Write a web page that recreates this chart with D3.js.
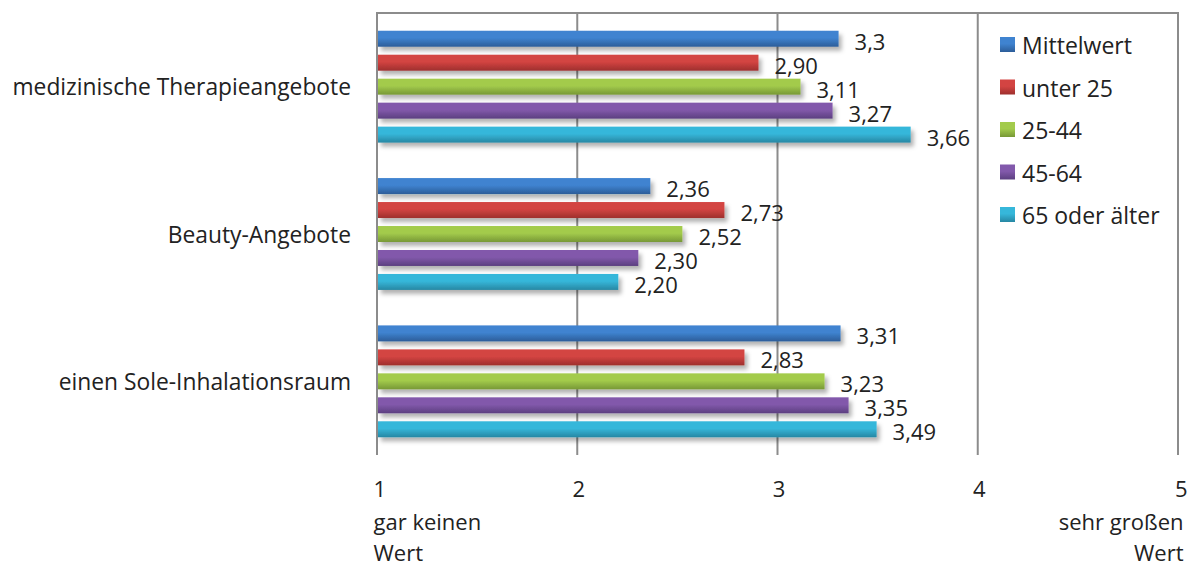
<!DOCTYPE html>
<html>
<head>
<meta charset="utf-8">
<script src="https://cdn.jsdelivr.net/npm/d3@7"></script>
<style>
  html, body { margin: 0; padding: 0; background: #fff; }
  svg { display: block; font-family: "Open Sans", "Noto Sans", sans-serif; }
</style>
</head>
<body>
<svg id="chart" width="1188" height="567"></svg>
<script>
// Categories (top to bottom)
const categories = ["medizinische Therapieangebote", "Beauty-Angebote", "einen Sole-Inhalationsraum"];

// Series names (legend order, also bar order inside each group)
const seriesNames = ["Mittelwert", "unter 25", "25-44", "45-64", "65 oder älter"];

// Value labels per series, one per category (German decimal comma)
const mittelwert = ["3,3", "2,36", "3,31"];
const unter25   = ["2,90", "2,73", "2,83"];
const alter2544 = ["3,11", "2,52", "3,23"];
const alter4564 = ["3,27", "2,30", "3,35"];
const alter65   = ["3,66", "2,20", "3,49"];

// Axis ticks and their captions
const tickValues = [1, 2, 3, 4, 5];
const tickCaptions = { 1: ["gar keinen", "Wert"], 5: ["sehr großen", "Wert"] };

// Bar colours: [light top, dark bottom]
const seriesColors = [
  ["#3f83d0", "#2c5d99"],
  ["#d34442", "#9e2f2d"],
  ["#a3cb4c", "#779836"],
  ["#8259ab", "#5c3f80"],
  ["#36b7da", "#2787a3"]
];

const seriesLabels = [mittelwert, unter25, alter2544, alter4564, alter65];
const parseDe = s => +s.replace(",", ".");

const data = [];
categories.forEach((cat, ci) => {
  seriesNames.forEach((s, si) => {
    const label = seriesLabels[si][ci];
    data.push({ category: cat, series: s, si, label, value: parseDe(label) });
  });
});

const svg = d3.select("#chart");
const W = 1188;
const plotTop = 13, plotBottom = 455, plotLeft = 378, plotRight = 1179;
const textColor = "#222";

const x = d3.scaleLinear().domain([1, 5]).range([plotLeft, plotRight]);
const y0 = d3.scaleBand().domain(categories).range([plotTop, plotBottom]).paddingInner(0).paddingOuter(0);
const y1 = d3.scaleBand().domain(seriesNames).range([0, y0.bandwidth()])
  .paddingInner(1 / 3).paddingOuter(0.74);

// Gradients and shadow
const defs = svg.append("defs");
seriesColors.forEach((c, i) => {
  const g = defs.append("linearGradient").attr("id", "grad" + i)
    .attr("x1", 0).attr("y1", 0).attr("x2", 0).attr("y2", 1);
  g.append("stop").attr("offset", "0%").attr("stop-color", c[0]);
  g.append("stop").attr("offset", "45%").attr("stop-color", c[0]);
  g.append("stop").attr("offset", "100%").attr("stop-color", c[1]);
});
const f = defs.append("filter").attr("id", "shadow")
  .attr("x", "-5%").attr("y", "-50%").attr("width", "115%").attr("height", "250%");
f.append("feDropShadow").attr("dx", 3).attr("dy", 4).attr("stdDeviation", 2.2)
  .attr("flood-color", "#000").attr("flood-opacity", 0.3);

// Gridlines (vertical at each tick) and top border
svg.append("g").selectAll("line").data(tickValues).join("line")
  .attr("x1", d => x(d) - 1).attr("x2", d => x(d) - 1)
  .attr("y1", plotTop).attr("y2", plotBottom)
  .attr("stroke", "#8c8c8c").attr("stroke-width", 2);
svg.append("line")
  .attr("x1", x(1) - 2).attr("x2", x(5))
  .attr("y1", plotTop).attr("y2", plotTop)
  .attr("stroke", "#8c8c8c").attr("stroke-width", 2);

// Bars
svg.append("g").selectAll("rect").data(data).join("rect")
  .attr("x", x(1))
  .attr("y", d => y0(d.category) + y1(d.series))
  .attr("width", d => x(d.value) - x(1))
  .attr("height", y1.bandwidth())
  .attr("fill", d => `url(#grad${d.si})`)
  .attr("filter", "url(#shadow)");

// Value labels
svg.append("g").selectAll("text").data(data).join("text")
  .attr("x", d => x(d.value) + 16)
  .attr("y", d => y0(d.category) + y1(d.series) + y1.bandwidth() / 2 + 2)
  .attr("dominant-baseline", "central")
  .attr("font-size", 22)
  .attr("fill", textColor)
  .text(d => d.label);

// Category labels
svg.append("g").selectAll("text").data(categories).join("text")
  .attr("x", plotLeft - 27)
  .attr("y", d => y0(d) + y0.bandwidth() / 2)
  .attr("text-anchor", "end")
  .attr("dominant-baseline", "central")
  .attr("font-size", 22.8)
  .attr("fill", textColor)
  .text(d => d);

// Bottom axis labels
const axis = d3.axisBottom(x).tickValues(tickValues).tickSize(0).tickPadding(0)
  .tickFormat(d => String(d));
const ag = svg.append("g").attr("transform", `translate(0,${plotBottom})`).call(axis);
ag.select(".domain").remove();
ag.attr("font-family", null).attr("font-size", null);
ag.selectAll(".tick text")
  .attr("font-size", 22)
  .attr("fill", textColor)
  .attr("dy", null)
  .attr("y", 42)
  .attr("text-anchor", d => d === 1 ? "start" : (d === 5 ? "end" : "middle"))
  .attr("x", d => d === 1 ? -5 : (d === 5 ? W - 1 - x(5) : 0));
ag.selectAll(".tick").each(function (d) {
  const caps = tickCaptions[d];
  if (!caps) return;
  const t = d3.select(this).append("text")
    .attr("font-size", 22)
    .attr("fill", textColor)
    .attr("text-anchor", d === 1 ? "start" : "end");
  caps.forEach((line, i) => {
    t.append("tspan")
      .attr("x", d === 1 ? -5 : 4)
      .attr("y", 75 + i * 31)
      .text(line);
  });
});

// Legend
const lg = svg.append("g").attr("transform", "translate(1000,37)");
const items = lg.selectAll("g").data(seriesNames).join("g")
  .attr("transform", (d, i) => `translate(0,${i * 42.5})`);
items.append("rect").attr("width", 15).attr("height", 15)
  .attr("fill", (d, i) => `url(#grad${i})`);
items.append("text").attr("x", 22).attr("y", 8)
  .attr("dominant-baseline", "central")
  .attr("font-size", 23)
  .attr("fill", textColor)
  .text(d => d);
</script>
</body>
</html>
